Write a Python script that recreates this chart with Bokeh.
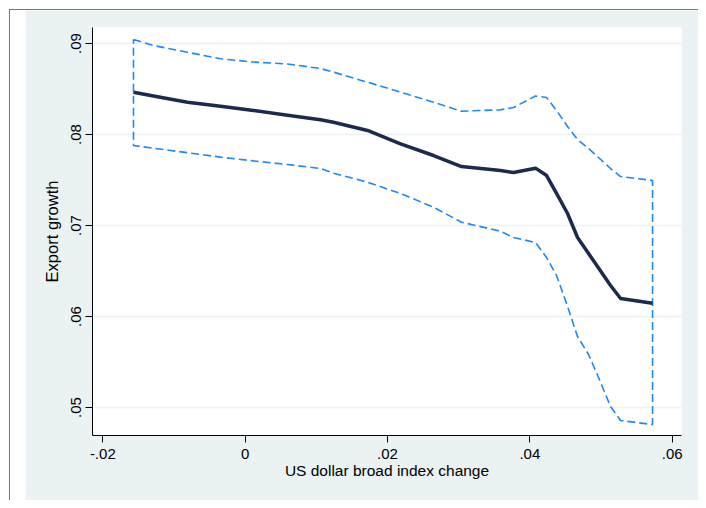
from bokeh.plotting import figure
from bokeh.layouts import column
from bokeh.models import Range1d, FixedTicker
from bokeh.embed import file_html
from bokeh.resources import INLINE

# --- data ---
x_vals = [-0.01569, -0.01288, -0.00810, -0.00346, 0.00117, 0.00595, 0.01059, 0.01241,
          0.01719, 0.02183, 0.02647, 0.03040, 0.03588, 0.03771, 0.04080, 0.04235,
          0.04375, 0.04530, 0.04670, 0.04825, 0.04965, 0.05134, 0.05275, 0.05724]
fit = [0.08465, 0.08424, 0.08355, 0.08310, 0.08264, 0.08212, 0.08162, 0.08135,
       0.08044, 0.07898, 0.07769, 0.07648, 0.07604, 0.07582, 0.07630, 0.07549,
       0.07352, 0.07132, 0.06868, 0.06692, 0.06533, 0.06341, 0.06198, 0.06146]
upper = [0.09044, 0.08978, 0.08904, 0.08832, 0.08796, 0.08775, 0.08725, 0.08685,
         0.08575, 0.08465, 0.08355, 0.08256, 0.08271, 0.08297, 0.08423, 0.08407,
         0.08264, 0.08088, 0.07945, 0.07846, 0.07747, 0.07626, 0.07538, 0.07495]
lower = [0.07879, 0.07849, 0.07800, 0.07751, 0.07710, 0.07670, 0.07626, 0.07575,
         0.07476, 0.07352, 0.07201, 0.07036, 0.06937, 0.06868, 0.06813, 0.06648,
         0.06451, 0.06110, 0.05780, 0.05582, 0.05330, 0.05011, 0.04857, 0.04813]

x_ticks = [-0.02, 0.0, 0.02, 0.04, 0.06]
x_tick_labels = ["-.02", "0", ".02", ".04", ".06"]
y_ticks = [0.05, 0.06, 0.07, 0.08, 0.09]
y_tick_labels = [".05", ".06", ".07", ".08", ".09"]

x_title = "US dollar broad index change"
y_title = "Export growth"

BG = "#EAF2F3"
FONT = "Liberation Sans"

p = figure(width=673, height=490, output_backend="svg", toolbar_location=None,
           x_range=Range1d(-0.021447, 0.061307), y_range=Range1d(0.046923, 0.091758),
           min_border_left=67, min_border_right=17, min_border_top=17, min_border_bottom=65)
p.margin = (0, 0, 0, 15)
p.background_fill_color = "white"
p.border_fill_color = BG
p.outline_line_color = None

# confidence band outline (closed dashed polygon)
band_x = x_vals + x_vals[::-1] + [x_vals[0]]
band_y = upper + lower[::-1] + [upper[0]]
p.line(band_x, band_y, line_color="#1E88F5", line_width=1.6, line_dash="8 4")
p.line(x_vals, fit, line_color="#1C2A4E", line_width=3.5, line_join="round")

xa = p.xaxis[0]
ya = p.yaxis[0]
xa.ticker = FixedTicker(ticks=x_ticks)
ya.ticker = FixedTicker(ticks=y_ticks)
xa.major_label_overrides = dict(zip(x_ticks, x_tick_labels))
ya.major_label_overrides = dict(zip(y_ticks, y_tick_labels))
ya.major_label_orientation = "vertical"
xa.axis_label = x_title
ya.axis_label = y_title
for ax in (xa, ya):
    ax.minor_tick_line_color = None
    ax.major_tick_out = 7
    ax.major_tick_in = 0
    ax.axis_line_color = "black"
    ax.major_tick_line_color = "black"
    ax.major_label_text_font = FONT
    ax.major_label_text_font_size = "15px"
    ax.major_label_text_color = "black"
    ax.axis_label_text_font = FONT
    ax.axis_label_text_font_style = "normal"
    ax.axis_label_text_color = "black"
xa.axis_label_text_font_size = "15.5px"
ya.axis_label_text_font_size = "16.5px"
xa.major_label_standoff = 6
xa.axis_label_standoff = 0
ya.major_label_standoff = 4
ya.axis_label_standoff = 8

p.xgrid.visible = False
p.ygrid.ticker = FixedTicker(ticks=y_ticks)
p.ygrid.grid_line_color = BG
p.ygrid.grid_line_width = 1.5

lay = column(p, margin=(9, 0, 0, 9),
             styles={"border-top": "1px solid #777777", "border-left": "1px solid #777777",
                     "background-color": "white"})

open("out.html", "w").write(file_html(lay, INLINE))
